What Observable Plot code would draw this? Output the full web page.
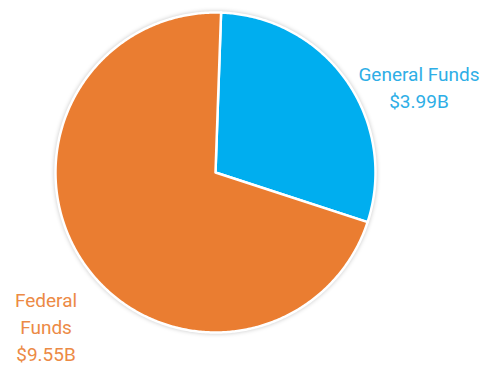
<!DOCTYPE html>
<html>
<head>
<meta charset="utf-8">
<script src="https://cdn.jsdelivr.net/npm/d3@7"></script>
<script src="https://cdn.jsdelivr.net/npm/@observablehq/plot@0.6"></script>
<style>
  html, body { margin: 0; padding: 0; background: #ffffff; }
  #chart svg { display: block; }
  g[aria-label="line"] { filter: drop-shadow(0 0 2px rgba(0,0,0,0.22)); }
</style>
</head>
<body>
<div id="chart"></div>
<script>
const categories = ["General Funds", "Federal Funds"];
const values = [3.99, 9.55];
const valueLabels = ["$3.99B", "$9.55B"];
const nameLabels = ["General Funds", "Federal\nFunds"];
const sliceColors = ["#00aeef", "#ea7d31"];
const textColors = ["#2eaee6", "#ec8a45"];

const startAngle = 2 * Math.PI / 180;
const arcs = d3.pie().sort(null).startAngle(startAngle).endAngle(startAngle + 2 * Math.PI)(values);

// polygon points for each slice, computed from the pie angles
const slicePoints = [];
arcs.forEach((a, i) => {
  const name = categories[i];
  slicePoints.push({name, x: 0, y: 0});
  const n = Math.max(2, Math.ceil((a.endAngle - a.startAngle) / 0.01));
  for (let k = 0; k <= n; k++) {
    const t = a.startAngle + (a.endAngle - a.startAngle) * k / n;
    slicePoints.push({name, x: Math.sin(t), y: Math.cos(t)});
  }
  slicePoints.push({name, x: 0, y: 0});
});

const labels = arcs.map((a, i) => {
  const mid = (a.startAngle + a.endAngle) / 2;
  return {
    name: categories[i],
    text: nameLabels[i] + "\n" + valueLabels[i],
    x: 1.3 * Math.sin(mid),
    y: 1.3 * Math.cos(mid),
    color: textColors[i]
  };
});

const chart = Plot.plot({
  width: 486,
  height: 366,
  marginLeft: 55,
  marginRight: 111,
  marginTop: 12,
  marginBottom: 34,
  x: {domain: [-1, 1], axis: null},
  y: {domain: [-1, 1], axis: null},
  color: {domain: categories, range: sliceColors},
  style: {fontFamily: "Roboto, sans-serif", background: "#ffffff"},
  marks: [
    Plot.line(slicePoints, {x: "x", y: "y", z: "name", fill: "name", stroke: "white", strokeWidth: 2.5, strokeLinejoin: "round"}),
    Plot.text(labels.filter(d => d.name === "General Funds"), {
      x: "x", y: "y", text: "text", fill: d => d.color, textAnchor: "middle", lineAnchor: "middle",
      fontSize: 19, lineHeight: 1.42, dx: 33, dy: 33
    }),
    Plot.text(labels.filter(d => d.name === "Federal Funds"), {
      x: "x", y: "y", text: "text", fill: d => d.color, textAnchor: "middle", lineAnchor: "middle",
      fontSize: 19, lineHeight: 1.42, dx: 1, dy: 34
    })
  ]
});
document.getElementById("chart").appendChild(chart);
</script>
</body>
</html>
